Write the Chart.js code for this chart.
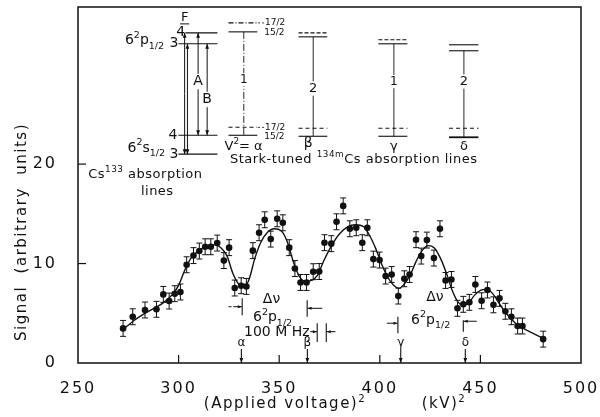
<!DOCTYPE html>
<html><head><meta charset="utf-8">
<script src="https://cdn.jsdelivr.net/npm/chart.js@4"></script>
<style>html,body{margin:0;padding:0;background:#fff}#wrap{width:600px;height:417px}</style>
</head><body><div id="wrap"><canvas id="c" width="600" height="417"></canvas></div>
<script>
// ---- data ----
const voltageSq = [272.4,277.2,283.3,289.0,292.4,295.3,298.1,300.9,304.0,307.4,310.3,313.2,316.0,319.2,322.5,325.1,327.9,331.1,333.7,336.9,340.0,342.8,345.8,349.0,351.8,355.0,357.8,360.6,363.6,366.9,369.9,372.5,375.9,378.5,381.8,385.1,388.3,391.3,393.8,396.8,399.9,402.9,405.9,409.2,412.2,414.8,418.0,420.6,423.4,426.9,429.9,432.7,435.6,438.6,441.5,444.5,447.5,450.6,453.5,456.5,459.5,462.4,465.4,468.5,470.9,481.2];
const signal = [3.48,4.65,5.33,5.40,6.90,6.23,6.97,7.14,9.88,10.8,11.26,11.69,11.69,12.06,10.3,11.6,7.54,7.77,7.7,11.3,13.1,14.4,12.46,14.5,14.1,11.6,9.5,8.1,8.1,9.18,9.2,12.1,12.0,14.2,15.8,13.5,13.6,12.1,13.6,10.45,10.35,8.74,8.9,6.73,8.47,8.9,12.4,10.75,12.36,10.55,13.5,8.3,8.4,5.5,5.9,6.1,7.9,6.26,7.34,5.85,6.5,5.2,4.65,3.72,3.72,2.4];
const signalErr = [0.8,0.8,0.8,0.8,0.8,0.8,0.8,0.8,0.8,0.8,0.8,0.8,0.8,0.8,0.8,0.8,0.8,0.8,0.8,0.8,0.8,0.8,0.8,0.8,0.8,0.8,0.8,0.8,0.8,0.8,0.8,0.8,0.8,0.8,0.8,0.8,0.8,0.8,0.8,0.8,0.8,0.8,0.8,0.8,0.8,0.8,0.8,0.8,0.8,0.8,0.8,0.8,0.8,0.8,0.8,0.8,0.8,0.8,0.8,0.8,0.8,0.8,0.8,0.8,0.8,0.8];
const fitVoltageSq = [272,278,285,292,297,300,303,306,310,314,318,321,324,327,330,332.5,335,338,341,344,347.5,351,354,357,360,363,366,369,372,376,380,384,388,392,395,398,401,404,407,409.5,412,415,418,421,424,427,430,433,436,439,441.5,444,447,450,453,456,459,462,465,468,474,481];
const fitSignal = [3.3,4.3,5.2,6.0,6.9,7.8,9.3,10.5,11.3,11.7,11.9,11.6,10.8,9.0,7.9,7.6,8.4,10.6,12.2,13.1,13.5,13.3,12.2,10.2,8.7,8.2,8.3,8.8,10.2,11.8,13.0,13.7,13.9,13.7,12.8,11.5,9.9,8.6,7.8,7.5,7.9,8.8,10.2,11.3,11.8,11.6,10.6,9.1,7.3,6.1,5.8,6.0,6.8,7.3,7.4,7.0,6.1,5.2,4.5,3.9,3.2,2.5];
const xTickValues = [250,300,350,400,450,500];
const yTickValues = [0,10,20];
const lineMarkers = ['α','β','γ','δ'];
const lineMarkerVoltageSq = [331.2,364.0,410.4,442.5];

const FONT = '"DejaVu Sans", sans-serif';
const INK = '#111';

function rich(ctx, parts, px, cy, size, align) {
  let w = 0;
  const ws = parts.map(([t, m]) => { ctx.font = (m ? size*0.68 : size) + 'px ' + FONT; const ww = ctx.measureText(t).width; w += ww; return ww; });
  let sx = align === 'center' ? px - w/2 : (align === 'right' ? px - w : px);
  const base = cy + size*0.36;
  ctx.textAlign = 'left'; ctx.textBaseline = 'alphabetic';
  parts.forEach(([t, m], i) => {
    ctx.font = (m ? size*0.68 : size) + 'px ' + FONT;
    const dy = m === 1 ? -size*0.45 : (m === -1 ? size*0.3 : 0);
    ctx.fillText(t, sx, base + dy);
    sx += ws[i];
  });
}
function arrow(ctx, x1, y1, x2, y2, head) {
  head = head || 5;
  ctx.beginPath(); ctx.moveTo(x1, y1); ctx.lineTo(x2, y2); ctx.stroke();
  const a = Math.atan2(y2-y1, x2-x1), s = Math.sin(a), c = Math.cos(a);
  ctx.beginPath(); ctx.moveTo(x2, y2);
  ctx.lineTo(x2 - head*c + head*0.38*s, y2 - head*s - head*0.38*c);
  ctx.lineTo(x2 - head*c - head*0.38*s, y2 - head*s + head*0.38*c);
  ctx.closePath(); ctx.fill();
}
function spacing(ctx, v) { try { ctx.letterSpacing = v; } catch (e) {} }

const diagramPlugin = {
  id: 'diagram',
  beforeDraw(chart) { spacing(chart.ctx, '2px'); },
  beforeDatasetsDraw(chart) {
    const {ctx, scales: {x, y}} = chart;
    spacing(ctx, '0px');
    ctx.save();
    ctx.strokeStyle = INK; ctx.lineWidth = 1;
    for (let i = 0; i < voltageSq.length; i++) {
      const px = x.getPixelForValue(voltageSq[i]);
      const p1 = y.getPixelForValue(signal[i] - signalErr[i]);
      const p2 = y.getPixelForValue(signal[i] + signalErr[i]);
      ctx.beginPath();
      ctx.moveTo(px, p1); ctx.lineTo(px, p2);
      ctx.moveTo(px-3, p1); ctx.lineTo(px+3, p1);
      ctx.moveTo(px-3, p2); ctx.lineTo(px+3, p2);
      ctx.stroke();
    }
    ctx.restore();
  },
  afterDraw(chart) {
    const {ctx, chartArea: a, scales: {x, y}} = chart;
    const X = v => x.getPixelForValue(v), Y = s => y.getPixelForValue(s);
    ctx.save();
    ctx.strokeStyle = INK; ctx.fillStyle = INK;
    // frame
    ctx.lineWidth = 1.5;
    ctx.strokeRect(a.left, a.top, a.right - a.left, a.bottom - a.top);
    // inner ticks
    ctx.lineWidth = 1.2;
    xTickValues.forEach(v => { if (v > x.min && v < x.max) { ctx.beginPath(); ctx.moveTo(X(v), a.bottom); ctx.lineTo(X(v), a.bottom - 8); ctx.stroke(); } });
    yTickValues.forEach(v => { if (v > 0) { ctx.beginPath(); ctx.moveTo(a.left, Y(v)); ctx.lineTo(a.left + 8, Y(v)); ctx.stroke(); } });
    // axis titles
    spacing(ctx, '1.5px');
    ctx.save();
    ctx.translate(22, 232); ctx.rotate(-Math.PI/2);
    ctx.font = '15px ' + FONT; ctx.textAlign = 'center'; ctx.textBaseline = 'middle';
    ctx.fillText('Signal  (arbitrary  units)', 0, 0);
    ctx.restore();
    rich(ctx, [['(Applied voltage)',0],['2',1]], 285, 403, 15, 'center');
    rich(ctx, [['(kV)',0],['2',1]], 444, 403, 15, 'center');
    spacing(ctx, '0px');

    const hl = (v1, v2, s, dash, lw) => { ctx.save(); ctx.lineWidth = lw || 1.1; ctx.setLineDash(dash || []); ctx.beginPath(); ctx.moveTo(X(v1), Y(s)); ctx.lineTo(X(v2), Y(s)); ctx.stroke(); ctx.restore(); };
    const vl = (v, s1, s2, dash, lw) => { ctx.save(); ctx.lineWidth = lw || 1; ctx.setLineDash(dash || []); ctx.beginPath(); ctx.moveTo(X(v), Y(s1)); ctx.lineTo(X(v), Y(s2)); ctx.stroke(); ctx.restore(); };
    const txt = (t, v, s, size, align) => { ctx.font = size + 'px ' + FONT; ctx.textAlign = align || 'center'; ctx.textBaseline = 'middle'; ctx.fillText(t, X(v), Y(s)); };
    const boxed = (t, v, s, size) => { ctx.font = size + 'px ' + FONT; const w = ctx.measureText(t).width; ctx.save(); ctx.fillStyle = '#fff'; ctx.fillRect(X(v) - w/2 - 1, Y(s) - size*0.55, w + 2, size*1.1); ctx.restore(); txt(t, v, s, size); };
    const dbl = (v, s1, s2) => { ctx.lineWidth = 1; arrow(ctx, X(v), (Y(s1)+Y(s2))/2, X(v), Y(s1), 5); arrow(ctx, X(v), (Y(s1)+Y(s2))/2, X(v), Y(s2), 5); };

    // --- Cs133 level scheme ---
    hl(303.4, 319.3, 33.2); hl(299.9, 319.3, 32.1); hl(299.9, 319.3, 22.9); hl(299.9, 319.3, 21.0);
    txt('F', 303.0, 34.75, 13);
    hl(300.7, 305.3, 34.1, [], 1);
    txt('4', 301.0, 33.2, 14); txt('3', 297.7, 32.1, 14);
    txt('4', 297.2, 22.9, 14); txt('3', 297.7, 21.0, 14);
    rich(ctx, [['6',0],['2',1],['p',0],['1/2',-1]], X(292.8), Y(32.55), 14, 'right');
    rich(ctx, [['6',0],['2',1],['s',0],['1/2',-1]], X(293.3), Y(21.75), 14, 'right');
    dbl(303.0, 33.2, 21.0); dbl(304.4, 32.1, 21.0); dbl(309.7, 33.2, 22.9); dbl(314.2, 32.1, 22.9);
    boxed('A', 309.7, 28.3, 14); boxed('B', 314.2, 26.5, 14);
    spacing(ctx, '0.5px');
    rich(ctx, [['Cs',0],['133',1],[' absorption',0]], X(283.5), Y(19.1), 13, 'center');
    txt('lines', 289.4, 17.2, 13);
    spacing(ctx, '0px');

    // --- Stark-tuned diagrams ---
    const small = (t, v, s) => { ctx.font = '9px ' + FONT; ctx.textAlign = 'left'; ctx.textBaseline = 'middle'; ctx.fillText(t, X(v), Y(s)); };
    // alpha
    hl(324.8, 339.1, 34.2, [5,2,1,2]); hl(324.8, 339.1, 33.3);
    hl(324.8, 339.1, 23.7, [4,3]); hl(324.8, 339.1, 22.9);
    hl(339.5, 342.6, 34.2, [2,2], 0.8); small('17/2', 343.0, 34.2);
    small('15/2', 342.6, 33.25);
    hl(339.5, 342.6, 23.7, [2,2], 0.8); small('17/2', 343.0, 23.7);
    small('15/2', 342.6, 22.75);
    vl(332.4, 33.3, 22.9, [7,2,1,2], 0.9); boxed('1', 332.4, 28.5, 12);
    rich(ctx, [['V',0],['2',1],['= α',0]], X(332.3), Y(21.9), 13, 'center');
    // beta
    hl(359.6, 373.9, 33.2, [4,2]); hl(359.6, 373.9, 32.8);
    hl(359.6, 373.9, 23.6, [4,3]); hl(359.6, 373.9, 22.8);
    vl(366.9, 32.8, 22.8, [], 0.9); boxed('2', 366.9, 27.6, 13);
    txt('β', 364.4, 22.1, 14);
    // gamma
    hl(399.3, 413.7, 32.5, [4,2]); hl(399.3, 413.7, 32.1);
    hl(399.3, 413.7, 23.6, [4,3]); hl(399.3, 413.7, 22.8);
    vl(407.0, 32.1, 22.8, [], 0.9); boxed('1', 407.0, 28.3, 12);
    txt('γ', 407.0, 21.8, 13);
    // delta
    hl(434.4, 449.0, 32.0); hl(434.4, 449.0, 31.4);
    hl(434.4, 449.0, 23.6, [4,3]); hl(434.4, 449.0, 22.7, [], 1.8);
    vl(441.8, 31.4, 22.7, [], 0.9); boxed('2', 441.8, 28.3, 13);
    txt('δ', 441.8, 21.8, 13);
    spacing(ctx, '0.5px');
    rich(ctx, [['Stark-tuned ',0],['134m',1],['Cs absorption lines',0]], X(325.5), Y(20.6), 13, 'left');
    spacing(ctx, '0px');

    // --- marker arrows on the axis ---
    ctx.lineWidth = 1.1;
    lineMarkerVoltageSq.forEach((v, i) => {
      arrow(ctx, X(v), Y(1.4), X(v), Y(0), 5);
      txt(lineMarkers[i], v, 2.05, 12);
    });

    // --- Δν annotations ---
    ctx.lineWidth = 1;
    vl(331.6, 6.5, 4.8, [], 1.1); hl(324.8, 326.3, 5.66, [], 1); arrow(ctx, X(327.2), Y(5.66), X(331.4), Y(5.66), 4);
    vl(363.9, 6.3, 4.65, [], 1.1); arrow(ctx, X(371.4), Y(5.5), X(364.1), Y(5.5), 4);
    txt('Δν', 346.2, 6.35, 14);
    rich(ctx, [['6',0],['2',1],['p',0],['1/2',-1]], X(346.7), Y(4.7), 14, 'center');
    txt('100 M Hz', 348.8, 3.1, 14);
    vl(368.9, 4.0, 2.1, [], 1.1); arrow(ctx, X(365.4), Y(3.15), X(368.7), Y(3.15), 4);
    vl(373.4, 4.0, 2.1, [], 1.1); arrow(ctx, X(378.0), Y(3.15), X(373.6), Y(3.15), 4);
    vl(409.0, 4.65, 3.0, [], 1.1); arrow(ctx, X(403.5), Y(4.0), X(408.8), Y(4.0), 4);
    vl(441.5, 4.3, 3.15, [], 1.1); arrow(ctx, X(448.2), Y(4.2), X(441.7), Y(4.2), 4);
    txt('Δν', 427.4, 6.6, 14);
    rich(ctx, [['6',0],['2',1],['p',0],['1/2',-1]], X(425.3), Y(4.45), 14, 'center');
    ctx.restore();
  }
};

new Chart(document.getElementById('c'), {
  data: {
    datasets: [
      { type: 'line', data: fitVoltageSq.map((v, i) => ({x: v, y: fitSignal[i]})), borderColor: INK, borderWidth: 1.4, pointRadius: 0, cubicInterpolationMode: 'monotone', fill: false },
      { type: 'scatter', data: voltageSq.map((v, i) => ({x: v, y: signal[i]})), backgroundColor: INK, borderColor: INK, pointRadius: 3.3, pointBorderWidth: 0 }
    ]
  },
  options: {
    responsive: false, animation: false, devicePixelRatio: 1,
    layout: { padding: { left: 0, right: 19, top: 7, bottom: 0 } },
    plugins: { legend: { display: false }, tooltip: { enabled: false } },
    scales: {
      x: {
        type: 'linear', min: 250, max: 500,
        afterBuildTicks: s => { s.ticks = xTickValues.map(v => ({value: v})); },
        afterFit: s => { s.height = 54; s.paddingLeft = 0; s.paddingRight = 0; },
        grid: { display: false }, border: { display: false },
        ticks: { color: INK, font: { family: FONT, size: 16 }, padding: 8, maxRotation: 0 },
        title: { display: false }
      },
      y: {
        type: 'linear', min: 0, max: 35.8,
        afterBuildTicks: s => { s.ticks = yTickValues.map(v => ({value: v})); },
        afterFit: s => { s.width = 78; s.paddingTop = 0; s.paddingBottom = 0; },
        grid: { display: false }, border: { display: false },
        ticks: { color: INK, font: { family: FONT, size: 16 }, padding: 13 }
      }
    }
  },
  plugins: [diagramPlugin]
});
</script>
</body></html>
